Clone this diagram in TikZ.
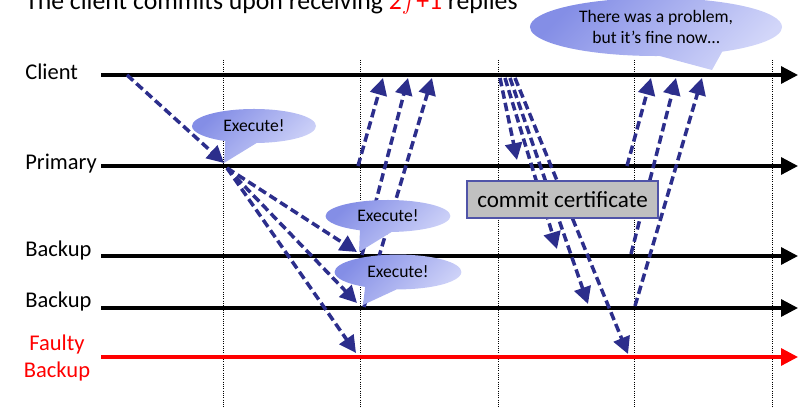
\documentclass[tikz,border=0pt]{standalone}
\usepackage{fontspec}
\setmainfont{Carlito}
\usepackage{tikz}
\usetikzlibrary{arrows.meta,positioning,shapes.callouts}
\usepackage{xcolor}

\definecolor{msgblue}{RGB}{44,46,140}
\definecolor{bubbleA}{RGB}{132,142,230}
\definecolor{bubbleB}{RGB}{210,214,249}
\definecolor{certgray}{RGB}{192,192,192}
\definecolor{certedge}{RGB}{80,84,168}

\begin{document}
\begin{tikzpicture}[
  x=0.025cm, y=-0.025cm,
  timeline/.style={line width=2.3pt, -{Triangle[length=12pt, width=12pt]}},
  phase/.style={densely dotted, line width=0.6pt},
  msg/.style={draw=msgblue, line width=2.5pt, dash pattern=on 6pt off 3pt,
    -{Triangle[length=12pt, width=12pt]}},
  procname/.style={font=\fontsize{16}{19.5}\selectfont, anchor=base west, inner sep=0pt},
  bubble/.style={ellipse callout, top color=bubbleA, bottom color=bubbleB, shading angle=45,
    font=\fontsize{12.5}{15.5}\selectfont, align=center, inner sep=0pt, callout pointer arc=30},
  cert/.style={draw=certedge, line width=0.9pt, fill=certgray, minimum width=4.78cm,
    minimum height=0.93cm, font=\fontsize{16.4}{20}\selectfont, inner sep=0pt}
]
  \useasboundingbox (0,0) rectangle (805,407);

  % Title (cut by the top edge)
  \node[anchor=base west, inner sep=0pt, font=\fontsize{18.3}{22}\selectfont] (title) at (25,9.5)
    {The client commits upon receiving \textcolor{red}{2$f$+1} replies};

  % Phase separators
  \foreach \x in {223,360,498,634,772} {
    \draw[phase] (\x,60) -- (\x,407);
  }

  % Process names and time lines
  \node[procname] (lcli) at (25,80) {Client};
  \node[procname] (lpri) at (25,170) {Primary};
  \node[procname] (lbk1) at (25,257) {Backup};
  \node[procname] (lbk2) at (25,307) {Backup};
  \node[procname, anchor=center, align=center, text=red] (lfty) at (57,358) {Faulty\\Backup};

  \foreach \n/\y in {cli/75,pri/166,bk1/256,bk2/308,fty/357} {
    \coordinate (\n-s) at (101,\y);
    \coordinate (\n-e) at (798,\y);
  }
  \draw[timeline] (cli-s) -- (cli-e);
  \draw[timeline] (pri-s) -- (pri-e);
  \draw[timeline] (bk1-s) -- (bk1-e);
  \draw[timeline] (bk2-s) -- (bk2-e);
  \draw[timeline, draw=red, fill=red] (fty-s) -- (fty-e);

  % Request
  \coordinate (req) at (127,75);
  \coordinate (pri-req) at (224,163);
  \draw[msg] (req) -- (pri-req);

  % Primary forwards to the backups
  \coordinate (fwd) at (227,168);
  \coordinate (bk1-fwd) at (357,252);
  \coordinate (bk2-fwd) at (357,303);
  \coordinate (fty-fwd) at (356,353);
  \draw[msg] (fwd) -- (bk1-fwd);
  \draw[msg] (fwd) -- (bk2-fwd);
  \draw[msg] (fwd) -- (fty-fwd);

  % First replies
  \coordinate (pri-rep) at (358,166);
  \coordinate (bk1-rep) at (362,255);
  \coordinate (bk2-rep) at (364,307);
  \coordinate (cli-rep1) at (383,78);
  \coordinate (cli-rep2) at (408,78);
  \coordinate (cli-rep3) at (432,78);
  \draw[msg] (pri-rep) -- (cli-rep1);
  \draw[msg] (bk1-rep) -- (cli-rep2);
  \draw[msg] (bk2-rep) -- (cli-rep3);

  % Client sends the commit certificate
  \coordinate (cc1) at (500,78);
  \coordinate (cc2) at (505,78);
  \coordinate (cc3) at (510,78);
  \coordinate (cc4) at (515,78);
  \coordinate (pri-cc) at (517,160);
  \coordinate (bk1-cc) at (557,249);
  \coordinate (bk2-cc) at (588,304);
  \coordinate (fty-cc) at (628,354);
  \draw[msg] (cc1) -- (pri-cc);
  \draw[msg] (cc2) -- (bk1-cc);
  \draw[msg] (cc3) -- (bk2-cc);
  \draw[msg] (cc4) -- (fty-cc);

  % Second replies
  \coordinate (pri-ack) at (627,166);
  \coordinate (bk1-ack) at (631,254);
  \coordinate (bk2-ack) at (635,306);
  \coordinate (cli-ack1) at (651,78);
  \coordinate (cli-ack2) at (676,78);
  \coordinate (cli-ack3) at (702,78);
  \draw[msg] (pri-ack) -- (cli-ack1);
  \draw[msg] (bk1-ack) -- (cli-ack2);
  \draw[msg] (bk2-ack) -- (cli-ack3);

  % Speech bubbles
  \coordinate (ex1-tip) at (224,163);
  \coordinate (ex2-tip) at (359,252);
  \coordinate (ex3-tip) at (363,305);
  \coordinate (fine-tip) at (712,70);
  \node[bubble, minimum width=3.1cm, minimum height=0.85cm, callout absolute pointer={(ex1-tip)}]
    (ex1) at (254,126) {Execute!};
  \node[bubble, minimum width=3.12cm, minimum height=0.8cm, callout absolute pointer={(ex2-tip)}]
    (ex2) at (388,216) {Execute!};
  \node[bubble, minimum width=3.17cm, minimum height=0.87cm, callout absolute pointer={(ex3-tip)}]
    (ex3) at (398,272) {Execute!};
  \node[bubble, minimum width=6.3cm, minimum height=1.45cm, callout absolute pointer={(fine-tip)}]
    (fine) at (656,27) {There was a problem,\\but it’s fine now…};

  \node[cert] (commit) at (562.5,199.5) {commit certificate};

\end{tikzpicture}
\end{document}
